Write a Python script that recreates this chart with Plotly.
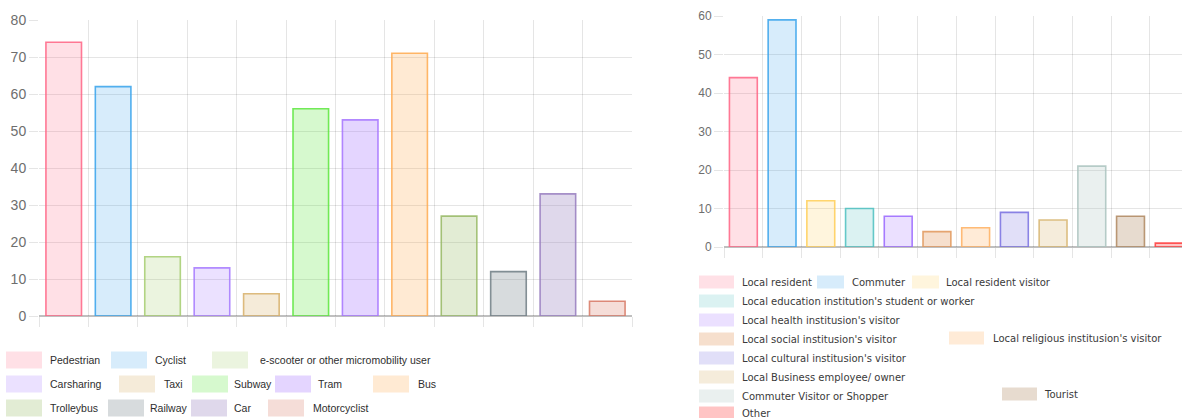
import plotly.graph_objects as go

W, H = 1182, 418

# ---------------- data ----------------
left_categories = ["Pedestrian", "Cyclist", "e-scooter or other micromobility user", "Carsharing",
                   "Taxi", "Subway", "Tram", "Bus", "Trolleybus", "Railway", "Car", "Motorcyclist"]
left_values = [74, 62, 16, 13, 6, 56, 53, 71, 27, 12, 33, 4]

right_categories = ["Local resident", "Commuter", "Local resident visitor",
                    "Local education institution's student or worker",
                    "Local health institusion's visitor", "Local social institusion's visitor",
                    "Local religious institusion's visitor", "Local cultural institusion's visitor",
                    "Local Business employee/ owner", "Commuter Visitor or Shopper", "Tourist", "Other"]
right_values = [44, 59, 12, 10, 8, 4, 5, 9, 7, 21, 8, 1]

left_ticks = [0, 10, 20, 30, 40, 50, 60, 70, 80]
right_ticks = [0, 10, 20, 30, 40, 50, 60]

# ---------------- styles ----------------
left_rgb = [(255, 99, 132), (54, 162, 235), (165, 205, 110), (165, 120, 255), (215, 175, 105),
            (90, 230, 60), (165, 115, 255), (255, 170, 80), (150, 185, 100), (110, 125, 132),
            (150, 125, 190), (215, 120, 100)]
left_alpha = [0.2, 0.2, 0.22, 0.22, 0.25, 0.25, 0.3, 0.25, 0.28, 0.28, 0.3, 0.25]
right_rgb = [(255, 99, 132), (54, 162, 235), (255, 206, 86), (75, 192, 192), (153, 102, 255),
             (225, 150, 90), (255, 175, 95), (120, 110, 225), (215, 180, 110), (170, 195, 190),
             (175, 135, 95), (255, 60, 60)]
right_alpha = [0.2, 0.2, 0.2, 0.2, 0.2, 0.3, 0.25, 0.22, 0.25, 0.25, 0.3, 0.3]


def rgba(c, a):
    return "rgba(%d,%d,%d,%.2f)" % (c[0], c[1], c[2], a)


left_fill = [rgba(c, a) for c, a in zip(left_rgb, left_alpha)]
left_line = [rgba(c, 0.85) for c in left_rgb]
right_fill = [rgba(c, a) for c, a in zip(right_rgb, right_alpha)]
right_line = [rgba(c, 0.85) for c in right_rgb]

GRID = "rgba(0,0,0,0.1)"
ZERO = "rgba(0,0,0,0.25)"

# plot areas in pixels (left, top, right, bottom)
L_AREA = (39, 20, 632, 316)
R_AREA = (724, 16, 1182, 247)


def dom_x(a):
    return [a[0] / W, a[2] / W]


def dom_y(a):
    return [1 - a[3] / H, 1 - a[1] / H]


fig = go.Figure()
fig.add_trace(go.Bar(x=left_categories, y=left_values, width=0.72,
                     marker=dict(color=left_fill, line=dict(color=left_line, width=1.6)),
                     xaxis="x", yaxis="y", showlegend=False, hoverinfo="x+y"))
fig.add_trace(go.Bar(x=right_categories, y=right_values, width=0.72,
                     marker=dict(color=right_fill, line=dict(color=right_line, width=1.6)),
                     xaxis="x2", yaxis="y2", showlegend=False, hoverinfo="x+y"))

xcommon = dict(type="category", tickson="boundaries", ticks="outside", ticklen=10,
               tickcolor=GRID, showticklabels=False, showgrid=True, gridcolor=GRID,
               gridwidth=1, zeroline=False, showline=False, fixedrange=True)
ycommon = dict(showgrid=True, gridcolor=GRID, gridwidth=1, zeroline=True, zerolinecolor=ZERO,
               zerolinewidth=1.5, ticks="outside", ticklen=9, tickcolor=GRID, showline=False,
               fixedrange=True)

fig.update_layout(
    width=W, height=H, margin=dict(l=0, r=0, t=0, b=0, autoexpand=False),
    paper_bgcolor="white", plot_bgcolor="white", bargap=0.28,
    font=dict(family="Liberation Sans, Arial, sans-serif"),
    xaxis=dict(domain=dom_x(L_AREA), anchor="y", range=[-0.5, 11.5], **xcommon),
    yaxis=dict(domain=dom_y(L_AREA), anchor="x", range=[0, 80], tickvals=left_ticks,
               tickfont=dict(size=14, color="#6e6e6e"), **ycommon),
    xaxis2=dict(domain=dom_x(R_AREA), anchor="y2", range=[-0.5, 11.33], **xcommon),
    yaxis2=dict(domain=dom_y(R_AREA), anchor="x2", range=[0, 60], tickvals=right_ticks,
                tickfont=dict(size=12, color="#6e6e6e"), **ycommon),
)

# ---------------- custom legends ----------------
# left legend: (swatch x0, swatch x1, row centre y, text x) in pixels
left_legend_pos = [(6, 42, 360, 49), (111, 147, 360, 154), (212, 248, 360, 259),
                   (6, 42, 384, 49), (119, 155, 384, 163), (192, 228, 384, 233),
                   (275, 311, 384, 317), (373, 409, 384, 417),
                   (6, 42, 408, 49), (108, 144, 408, 149), (191, 227, 408, 233),
                   (268, 304, 408, 312)]
left_sw_h = 17

right_legend_pos = [(699, 734, 282, 741), (817, 844, 282, 851), (912, 939, 282, 945),
                    (699, 734, 301, 741), (699, 734, 320, 741), (699, 734, 339, 741),
                    (949, 984, 338, 992), (699, 734, 358, 741), (699, 734, 377, 741),
                    (699, 734, 396, 741), (1002, 1037, 394, 1043), (699, 734, 413, 741)]
right_sw_h = 13

shapes = []
annotations = []


def add_legend(cats, fills, positions, sw_h, fsize, fcolor, family):
    for cat, fill, (x0, x1, yc, tx) in zip(cats, fills, positions):
        shapes.append(dict(type="rect", xref="paper", yref="paper",
                           x0=x0 / W, x1=x1 / W, y0=1 - (yc + sw_h / 2) / H,
                           y1=1 - (yc - sw_h / 2) / H, fillcolor=fill, line=dict(width=0),
                           layer="above"))
        annotations.append(dict(xref="paper", yref="paper", x=tx / W, y=1 - yc / H,
                                xanchor="left", yanchor="middle", text=cat, showarrow=False,
                                font=dict(size=fsize, color=fcolor, family=family),
                                borderpad=0))


add_legend(left_categories, left_fill, left_legend_pos, left_sw_h, 10.5, "#2e2e2e",
           "Liberation Sans, Arial, sans-serif")
add_legend(right_categories, right_fill, right_legend_pos, right_sw_h, 10, "#3a3a3a",
           "DejaVu Sans, sans-serif")

fig.update_layout(shapes=shapes, annotations=annotations)

fig.write_html("out.html")
